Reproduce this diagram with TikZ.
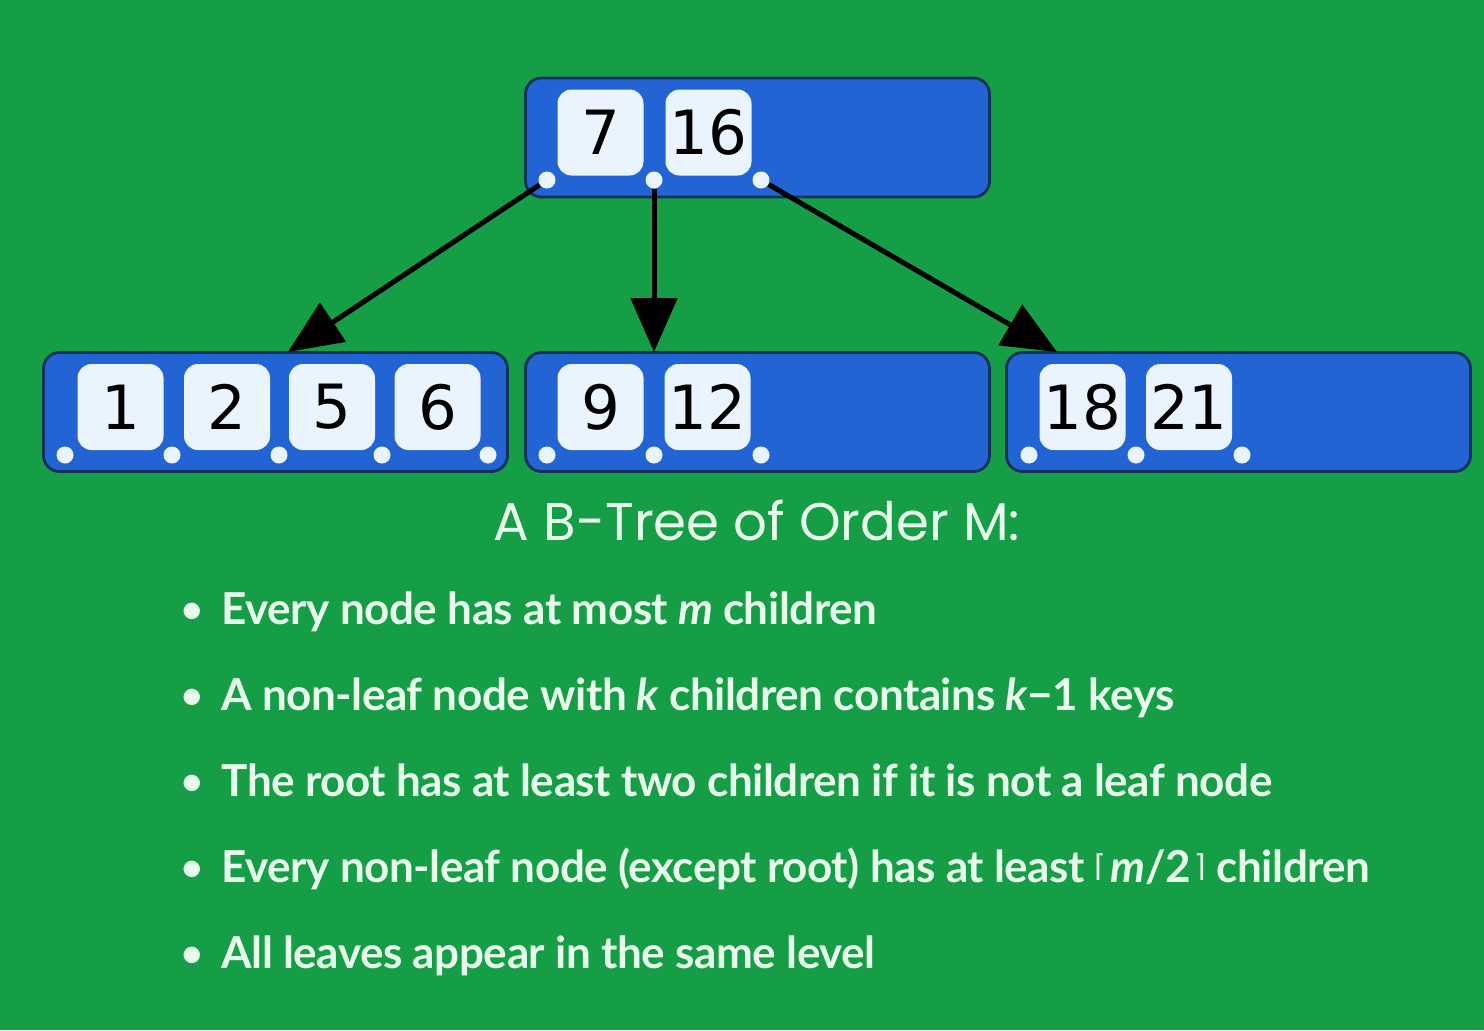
\documentclass[tikz,border=0pt]{standalone}
\usepackage{fontspec}
\setmainfont{Lato}
\newfontfamily\keyfont{DejaVu Sans}
\newfontfamily\titlefont{Poppins}
\newfontfamily\listfont{Lato Bold}[LetterSpace=-1, ItalicFont=Lato Bold Italic]
\usetikzlibrary{arrows.meta}

\definecolor{bggreen}{HTML}{159E45}
\definecolor{nodeblue}{HTML}{2264D4}
\definecolor{nodeedge}{HTML}{143258}
\definecolor{keyfill}{HTML}{EAF4FF}
\definecolor{txtgreen}{HTML}{E8FCEC}

\newcommand{\ceilbr}[1]{{\keyfont\fontsize{15}{26}\selectfont\raisebox{3pt}{#1}}}

\tikzset{
	bnode/.style={draw=nodeedge, line width=1.4pt, fill=nodeblue, rounded corners=8pt,
		minimum width=232pt, minimum height=59.5pt, inner sep=0pt},
	bkey/.style={fill=keyfill, rounded corners=7pt, minimum width=43pt, minimum height=43pt,
		inner sep=0pt, font=\keyfont\fontsize{30.5}{31}\selectfont},
	bptr/.style={circle, fill=keyfill, minimum size=8.5pt, inner sep=0pt},
	barrow/.style={line width=2.5pt, -{Triangle[length=27pt, width=23pt]}},
	bline/.style={anchor=base west, inner sep=0pt, text=txtgreen, font=\listfont\fontsize{22}{26}\selectfont},
	bdot/.style={anchor=base, inner sep=0pt, text=txtgreen, font=\fontsize{22}{26}\selectfont}
}

\begin{document}
\begin{tikzpicture}[x=0.5pt, y=-0.5pt]
	\fill[bggreen] (0,0) rectangle (1484,1030);
	\useasboundingbox (0,0) rectangle (1484,1030);

	% tree nodes
	\node[bnode] (root) at (757.5,137.5) {};
	\node[bnode] (leafA) at (275.5,412) {};
	\node[bnode] (leafB) at (757.5,412) {};
	\node[bnode] (leafC) at (1238.5,412) {};

	% keys
	\foreach \n/\x/\y in {7/600.5/132.5, 16/708.5/132.5, 1/120.5/407, 2/227/407, 5/332/407,
		6/437.5/407, 9/600.5/407, 12/707.5/407, 18/1082.5/407, 21/1189/407}
		\node[bkey] (k\n) at (\x,\y) {\n};

	% child pointers
	\foreach \n/\x/\y in {r0/547/180, r1/654/180, r2/761/180,
		a0/65/455, a1/172/455, a2/279/455, a3/382/455, a4/488/455,
		b0/547/455, b1/654/455, b2/761/455,
		c0/1029/455, c1/1136/455, c2/1242/455}
		\node[bptr] (\n) at (\x,\y) {};

	\coordinate (tA) at (288,352);
	\coordinate (tB) at (654,352);
	\coordinate (tC) at (1057,352);
	\draw[barrow] (r0) -- (tA);
	\draw[barrow] (r1) -- (tB);
	\draw[barrow] (r2) -- (tC);

	% properties
	\node[text=txtgreen, inner sep=0pt, anchor=base, font=\titlefont\fontsize{26.5}{32}\selectfont]
		(title) at (757,540) {A B-Tree of Order M:};

	\foreach \i/\y in {1/624, 2/710, 3/796, 4/882, 5/968}
		\node[bdot] (dot\i) at (192,\y) {•};
	\node[bline] (line1) at (221,624) {Every node has at most \textit{m} children};
	\node[bline] (line2) at (221,710) {A non-leaf node with \textit{k} children contains \textit{k}−1 keys};
	\node[bline] (line3) at (221,796) {The root has at least two children if it is not a leaf node};
	\node[bline] (line4) at (221,882) {Every non-leaf node (except root) has at least \ceilbr{⌈}\hspace{2pt}\textit{m}/2\hspace{2pt}\ceilbr{⌉} children};
	\node[bline] (line5) at (221,968) {All leaves appear in the same level};
\end{tikzpicture}
\end{document}
